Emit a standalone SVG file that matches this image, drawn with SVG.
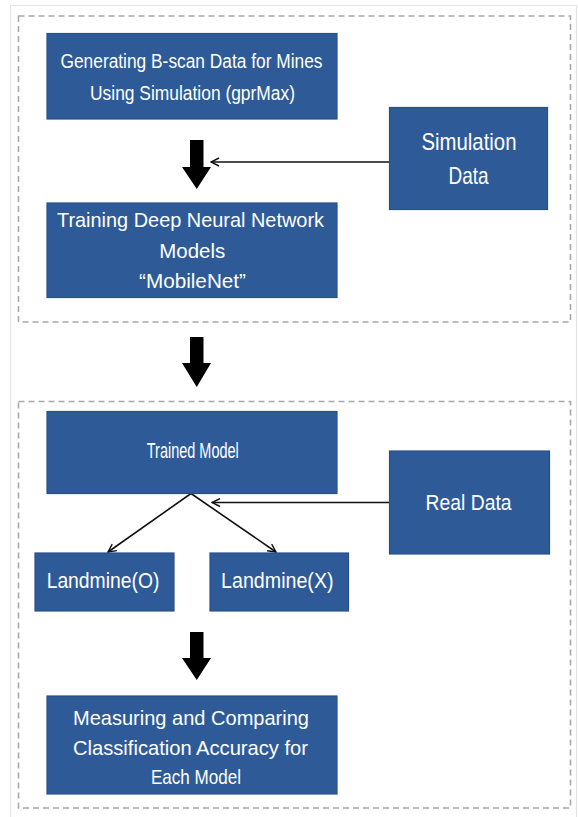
<svg xmlns="http://www.w3.org/2000/svg" width="578" height="817" viewBox="0 0 578 817">
<defs>
<style>
.frame{fill:#ffffff;stroke:#e4e4e4;stroke-width:1.2}
.group{fill:none;stroke:#a8a8a8;stroke-width:1.6;stroke-dasharray:6 4}
.box{fill:#2e5b98;stroke:#27508a;stroke-width:1.2}
.t{font-family:"Liberation Sans","DejaVu Sans",sans-serif;fill:#ffffff;text-anchor:middle}
.thin{fill:none;stroke:#111111;stroke-width:1.6}
.thick{fill:#000000}
</style>
<marker id="chev" viewBox="0 0 10 10" refX="9" refY="5" markerWidth="10" markerHeight="10" markerUnits="userSpaceOnUse" orient="auto">
<path d="M1,1 L9,5 L1,9" fill="none" stroke="#111111" stroke-width="1.4"/>
</marker>
</defs>
<rect x="0" y="0" width="578" height="817" fill="#ffffff"/>
<rect class="frame" x="10.5" y="5.5" width="566" height="820"/>
<rect class="group" x="18.5" y="16" width="552" height="306"/>
<rect class="group" x="18.5" y="401.5" width="552" height="406.5"/>

<g id="connectors">
<path class="thick" d="M190,140 H203.5 V167 H211 L196.75,189 L182,167 H190 Z"/>
<path class="thick" d="M190,337 H203.5 V363 H211 L196.75,387 L182,363 H190 Z"/>
<path class="thick" d="M190,632 H203.5 V658 H211 L196.75,680 L182,658 H190 Z"/>
<line class="thin" x1="389.5" y1="162" x2="211" y2="162" marker-end="url(#chev)"/>
<line class="thin" x1="389.5" y1="502.5" x2="212" y2="502.5" marker-end="url(#chev)"/>
<line class="thin" x1="191" y1="493.5" x2="108" y2="552" marker-end="url(#chev)"/>
<line class="thin" x1="191" y1="493.5" x2="276" y2="552" marker-end="url(#chev)"/>
</g>

<g id="node-generate">
<rect class="box" x="47" y="33.5" width="290" height="85.5"/>
<text class="t" x="191.5" y="68.3" font-size="20" textLength="262" lengthAdjust="spacingAndGlyphs">Generating B-scan Data for Mines</text>
<text class="t" x="192.5" y="100.3" font-size="20" textLength="205" lengthAdjust="spacingAndGlyphs">Using Simulation (gprMax)</text>
</g>

<g id="node-simdata">
<rect class="box" x="389.5" y="107.5" width="158" height="102"/>
<text class="t" x="469" y="150" font-size="24" textLength="95" lengthAdjust="spacingAndGlyphs">Simulation</text>
<text class="t" x="468.5" y="184" font-size="24" textLength="40" lengthAdjust="spacingAndGlyphs">Data</text>
</g>

<g id="node-training">
<rect class="box" x="47" y="203" width="290" height="94.5"/>
<text class="t" x="190.5" y="226.7" font-size="21" textLength="267" lengthAdjust="spacingAndGlyphs">Training Deep Neural Network</text>
<text class="t" x="192.3" y="258.3" font-size="21" textLength="66" lengthAdjust="spacingAndGlyphs">Models</text>
<text class="t" x="192.5" y="288.3" font-size="21" textLength="107" lengthAdjust="spacingAndGlyphs">“MobileNet”</text>
</g>

<g id="node-trained">
<rect class="box" x="47" y="411.5" width="290" height="82"/>
<text class="t" x="192.8" y="458" font-size="22" textLength="92" lengthAdjust="spacingAndGlyphs">Trained Model</text>
</g>

<g id="node-realdata">
<rect class="box" x="389.5" y="451" width="160" height="103"/>
<text class="t" x="468.6" y="510" font-size="22" textLength="86" lengthAdjust="spacingAndGlyphs">Real Data</text>
</g>

<g id="node-landmine-o">
<rect class="box" x="35" y="553" width="139" height="58"/>
<text class="t" x="103" y="588.3" font-size="22" textLength="112.7" lengthAdjust="spacingAndGlyphs">Landmine(O)</text>
</g>

<g id="node-landmine-x">
<rect class="box" x="210" y="553" width="138.5" height="58"/>
<text class="t" x="277.3" y="588.3" font-size="22" textLength="112.5" lengthAdjust="spacingAndGlyphs">Landmine(X)</text>
</g>

<g id="node-measuring">
<rect class="box" x="47" y="696" width="290" height="98"/>
<text class="t" x="191" y="725" font-size="21" textLength="236" lengthAdjust="spacingAndGlyphs">Measuring and Comparing</text>
<text class="t" x="190.5" y="755" font-size="21" textLength="235" lengthAdjust="spacingAndGlyphs">Classification Accuracy for</text>
<text class="t" x="196" y="784" font-size="21" textLength="90" lengthAdjust="spacingAndGlyphs">Each Model</text>
</g>
</svg>
